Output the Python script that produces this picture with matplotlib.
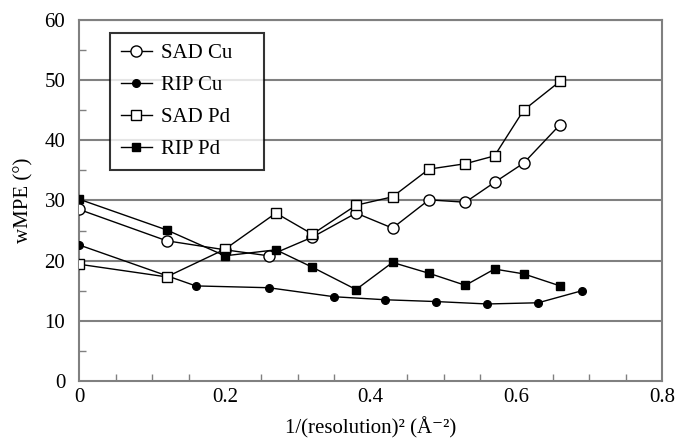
import numpy as np
import matplotlib.pyplot as plt
from matplotlib.ticker import MultipleLocator

plt.rcParams['font.family'] = ['Liberation Serif', 'DejaVu Serif']

# data
sad_cu_x = [0, 0.12, 0.20, 0.26, 0.32, 0.38, 0.43, 0.48, 0.53, 0.57, 0.61, 0.66]
sad_cu_y = [28.5, 23.3, 21.8, 20.8, 23.9, 27.9, 25.4, 30.1, 29.7, 33.0, 36.2, 42.6]

rip_cu_x = [0, 0.16, 0.26, 0.35, 0.42, 0.49, 0.56, 0.63, 0.69]
rip_cu_y = [22.6, 15.8, 15.5, 14.0, 13.5, 13.2, 12.8, 13.0, 15.0]

sad_pd_x = [0, 0.12, 0.20, 0.27, 0.32, 0.38, 0.43, 0.48, 0.53, 0.57, 0.61, 0.66]
sad_pd_y = [19.4, 17.3, 21.9, 27.9, 24.4, 29.2, 30.6, 35.2, 36.1, 37.4, 45.0, 49.8]

rip_pd_x = [0, 0.12, 0.20, 0.27, 0.32, 0.38, 0.43, 0.48, 0.53, 0.57, 0.61, 0.66]
rip_pd_y = [30.2, 25.1, 20.8, 21.8, 18.9, 15.2, 19.7, 17.9, 15.9, 18.6, 17.8, 15.8]

fig = plt.figure(figsize=(6.77, 4.41), dpi=100)
ax = fig.add_axes([0.117, 0.136, 0.861, 0.819])

grey = '#808080'
for y in range(10, 70, 10):
    ax.axhline(y, color=grey, lw=1.5, zorder=1)

ax.plot(sad_cu_x, sad_cu_y, color='black', lw=1, marker='o', ms=8,
        mfc='white', mec='black', mew=1, label='SAD Cu', zorder=3)
ax.plot(rip_cu_x, rip_cu_y, color='black', lw=1, marker='o', ms=5.5,
        mfc='black', mec='black', label='RIP Cu', zorder=3)
ax.plot(sad_pd_x, sad_pd_y, color='black', lw=1, marker='s', ms=7.5,
        mfc='white', mec='black', mew=1, label='SAD Pd', zorder=3)
ax.plot(rip_pd_x, rip_pd_y, color='black', lw=1, marker='s', ms=6,
        mfc='black', mec='black', label='RIP Pd', zorder=3)

ax.set_xlim(0, 0.8)
ax.set_ylim(0, 60)
ax.xaxis.set_minor_locator(MultipleLocator(0.05))
ax.yaxis.set_major_locator(MultipleLocator(10))
ax.yaxis.set_minor_locator(MultipleLocator(5))
ax.set_xticks([0, 0.2, 0.4, 0.6, 0.8])
ax.set_xticklabels(['0', '0.2', '0.4', '0.6', '0.8'])

for s in ax.spines.values():
    s.set_color(grey)
    s.set_linewidth(1.5)
ax.tick_params(which='both', direction='in', color=grey, labelsize=15, width=1)
ax.tick_params(which='major', length=0)
ax.tick_params(axis='x', which='major', pad=5)
ax.tick_params(axis='y', which='major', pad=10)
ax.tick_params(which='minor', length=5)

ax.set_xlabel('1/(resolution)² (Å⁻²)', fontsize=15, labelpad=7)
ax.set_ylabel('wMPE (°)', fontsize=15, labelpad=8)

handles, labels = ax.get_legend_handles_labels()
# trailing spaces widen the legend box on the right, as in the original
leg = ax.legend(handles, [l + '    ' for l in labels],
                loc='upper left', bbox_to_anchor=(0.053, 0.964), borderaxespad=0,
                fontsize=15, frameon=True, fancybox=False, edgecolor='black',
                handlelength=1.5, borderpad=0.5, labelspacing=0.6, handletextpad=0.45)
leg.get_frame().set_linewidth(1.5)
leg.set_zorder(5)

fig.savefig('out.png', dpi=100)
